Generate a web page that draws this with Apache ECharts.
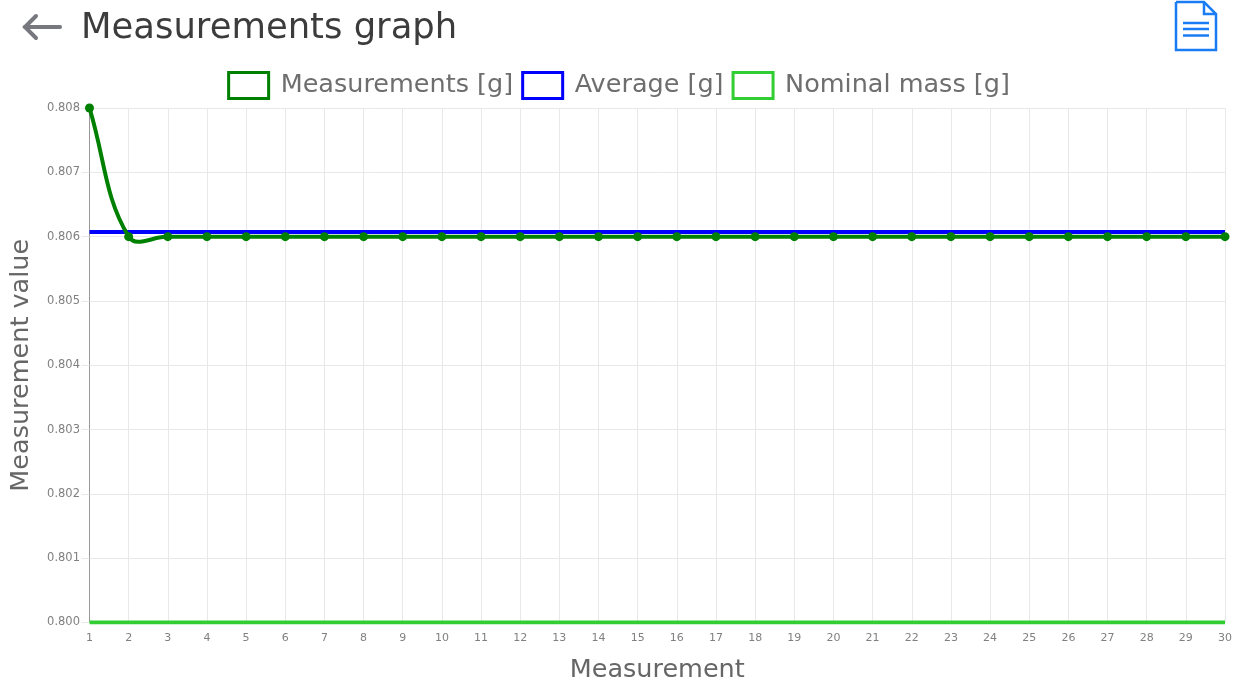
<!DOCTYPE html>
<html>
<head>
<meta charset="utf-8">
<style>
html, body { margin: 0; padding: 0; background: #fff; }
#chart { width: 1237px; height: 680px; }
</style>
<script src="https://cdn.jsdelivr.net/npm/echarts@6/dist/echarts.min.js"></script>
</head>
<body>
<div id="chart"></div>
<script>
let categories = ['1','2','3','4','5','6','7','8','9','10','11','12','13','14','15','16','17','18','19','20','21','22','23','24','25','26','27','28','29','30']
let measurements = [0.808,0.806,0.806,0.806,0.806,0.806,0.806,0.806,0.806,0.806,0.806,0.806,0.806,0.806,0.806,0.806,0.806,0.806,0.806,0.806,0.806,0.806,0.806,0.806,0.806,0.806,0.806,0.806,0.806,0.806]
let average = categories.map(function () { return 0.80607 })
let nominal = categories.map(function () { return 0.8 })
let seriesNames = ['Measurements [g]', 'Average [g]', 'Nominal mass [g]']

let tension = 0.4
let fontFamily = '"DejaVu Sans", sans-serif'
let chart = echarts.init(document.getElementById('chart'))

function legendStyle(color) {
    return {color: '#fff', borderColor: color, borderWidth: 3}
}

// control points around p1, same curve shape as the original chart (it overshoots, line smooth does not)
function controlPoints(p0, p1, p2) {
    let d01 = Math.hypot(p1[0] - p0[0], p1[1] - p0[1])
    let d12 = Math.hypot(p2[0] - p1[0], p2[1] - p1[1])
    let fa = tension * d01 / (d01 + d12)
    let fb = tension * d12 / (d01 + d12)
    return {
        before: [p1[0] - fa * (p2[0] - p0[0]), p1[1] - fa * (p2[1] - p0[1])],
        after: [p1[0] + fb * (p2[0] - p0[0]), p1[1] + fb * (p2[1] - p0[1])]
    }
}

function renderCurve(params, api) {
    let i = params.dataIndex
    let last = measurements.length - 1
    if (i === last) return null
    function pt(k) {
        k = Math.max(0, Math.min(last, k))
        return api.coord([k, measurements[k]])
    }
    let a = controlPoints(pt(i - 1), pt(i), pt(i + 1))
    let b = controlPoints(pt(i), pt(i + 1), pt(i + 2))
    let start = pt(i)
    let end = pt(i + 1)
    return {
        type: 'bezierCurve',
        shape: {
            x1: start[0], y1: start[1],
            x2: end[0], y2: end[1],
            cpx1: a.after[0], cpy1: a.after[1],
            cpx2: b.before[0], cpy2: b.before[1]
        },
        style: {stroke: '#008000', lineWidth: 4, fill: null}
    }
}

let option = {
    animation: false,
    backgroundColor: '#fff',
    textStyle: {fontFamily: fontFamily},
    title: {
        text: 'Measurements graph',
        left: 76,
        top: 6,
        textStyle: {color: '#3c3c3c', fontSize: 35.4, fontWeight: 'normal', fontFamily: fontFamily}
    },
    legend: {
        top: 66,
        left: 'center',
        itemWidth: 40,
        itemHeight: 26,
        itemGap: 8,
        textStyle: {color: '#6e6e6e', fontSize: 25.5, fontFamily: fontFamily, padding: [0, 0, 4, 7]},
        data: [
            {name: seriesNames[0], icon: 'rect', itemStyle: legendStyle('#008000')},
            {name: seriesNames[1], icon: 'rect', itemStyle: legendStyle('#0000ff')},
            {name: seriesNames[2], icon: 'rect', itemStyle: legendStyle('#32cd32')}
        ]
    },
    grid: {left: 89.5, right: 12, top: 108, bottom: 57.5, outerBoundsMode: 'none'},
    xAxis: {
        type: 'category',
        data: categories,
        boundaryGap: false,
        name: 'Measurement',
        nameLocation: 'middle',
        nameGap: 35,
        nameTextStyle: {color: '#666', fontSize: 25.5, fontFamily: fontFamily},
        axisLine: {onZero: false, lineStyle: {color: '#e6e6e6'}},
        axisTick: {show: false},
        axisLabel: {color: '#808080', fontSize: 11, margin: 10, interval: 0, fontFamily: fontFamily},
        splitLine: {show: true, interval: 0, lineStyle: {color: '#e8e8e8', width: 1}}
    },
    yAxis: {
        type: 'value',
        min: 0.8,
        max: 0.808,
        interval: 0.001,
        name: 'Measurement value',
        nameLocation: 'middle',
        nameGap: 55,
        nameTextStyle: {color: '#666', fontSize: 25.5, fontFamily: fontFamily},
        axisLine: {show: true, lineStyle: {color: '#999'}},
        axisTick: {show: true, length: 8, lineStyle: {color: '#e8e8e8'}},
        axisLabel: {
            color: '#808080',
            fontSize: 11.5,
            margin: 9.5,
            fontFamily: fontFamily,
            formatter: function (v) { return v.toFixed(3) }
        },
        splitLine: {show: true, lineStyle: {color: '#e8e8e8', width: 1}}
    },
    graphic: [
        // back arrow
        {type: 'polyline', shape: {points: [[25, 27], [60, 27]]}, style: {stroke: '#77777f', lineWidth: 4, fill: null, lineCap: 'round'}},
        {type: 'polyline', shape: {points: [[36, 16], [25, 27], [36, 38]]}, style: {stroke: '#77777f', lineWidth: 4, fill: null, lineCap: 'round'}},
        // document icon
        {type: 'polyline', shape: {points: [[1176, 2], [1204, 2], [1216, 14], [1216, 50], [1176, 50], [1176, 2]]}, style: {stroke: '#1a7cf5', lineWidth: 2.5, fill: null}},
        {type: 'polyline', shape: {points: [[1204, 2], [1204, 14], [1216, 14]]}, style: {stroke: '#1a7cf5', lineWidth: 2.5, fill: null}},
        {type: 'line', shape: {x1: 1183, y1: 23, x2: 1209, y2: 23}, style: {stroke: '#1a7cf5', lineWidth: 2.5}},
        {type: 'line', shape: {x1: 1183, y1: 29, x2: 1209, y2: 29}, style: {stroke: '#1a7cf5', lineWidth: 2.5}},
        {type: 'line', shape: {x1: 1183, y1: 35.5, x2: 1209, y2: 35.5}, style: {stroke: '#1a7cf5', lineWidth: 2.5}}
    ],
    series: [
        {
            name: seriesNames[2],
            type: 'line',
            data: nominal,
            showSymbol: false,
            z: 2,
            lineStyle: {color: '#32cd32', width: 4},
            itemStyle: {color: '#32cd32'}
        },
        {
            name: seriesNames[1],
            type: 'line',
            data: average,
            showSymbol: false,
            z: 3,
            lineStyle: {color: '#0000ff', width: 4},
            itemStyle: {color: '#0000ff'}
        },
        {
            type: 'custom',
            renderItem: renderCurve,
            data: measurements.map(function (v, i) { return [i, v] }),
            encode: {x: 0, y: 1},
            clip: false,
            silent: true,
            z: 4
        },
        {
            name: seriesNames[0],
            type: 'line',
            data: measurements,
            symbol: 'circle',
            symbolSize: 9,
            showSymbol: true,
            showAllSymbol: true,
            clip: false,
            z: 5,
            lineStyle: {width: 0},
            itemStyle: {color: '#008000'}
        }
    ]
}

chart.setOption(option)
</script>
</body>
</html>
